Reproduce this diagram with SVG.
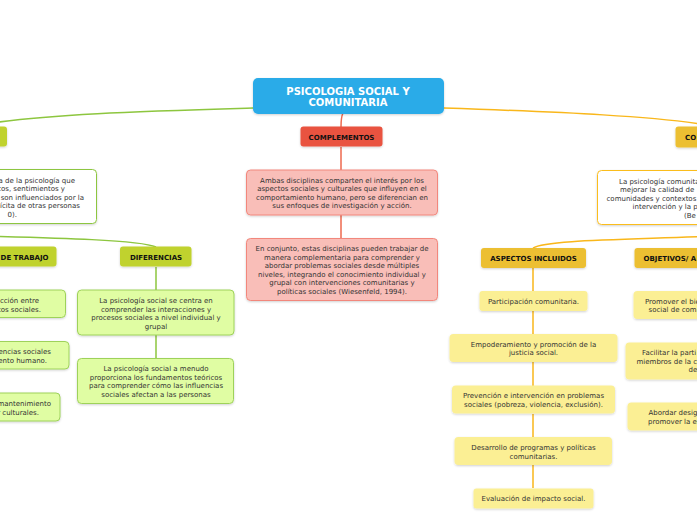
<svg xmlns="http://www.w3.org/2000/svg" width="697" height="520" viewBox="0 0 697 520">
<defs>
<filter id="sh" x="-10%" y="-20%" width="120%" height="150%">
<feDropShadow dx="0" dy="1" stdDeviation="1" flood-color="#000" flood-opacity="0.18"/>
</filter>
<style>
text{font-family:"DejaVu Sans","Verdana",sans-serif;}
.t{font-size:7px;fill:#333;text-anchor:middle;}
.te{font-size:7px;fill:#333;text-anchor:end;}
.ts{font-size:7px;fill:#333;text-anchor:start;}
.lb{font-size:7px;font-weight:bold;fill:#111;text-anchor:middle;}
.lbe{font-size:7px;font-weight:bold;fill:#111;text-anchor:end;}
.lbs{font-size:7px;font-weight:bold;fill:#111;text-anchor:start;}
.root{fill:#29abe8;}
.red{fill:#e9533f;}
.gn{fill:#c0d22f;}
.yn{fill:#ecbf31;}
.pink{fill:#f9beb8;stroke:#f2877c;stroke-width:1;}
.lg{fill:#e0fda3;stroke:#9ed25a;stroke-width:1;}
.ly{fill:#fbef94;}
.wg{fill:#fff;stroke:#8dc63f;stroke-width:1;}
.wy{fill:#fff;stroke:#fbbd1d;stroke-width:1;}
.cg{fill:none;stroke:#8dc63f;stroke-width:1.5;}
.cy{fill:none;stroke:#f9b71b;stroke-width:1.5;}
.cr{fill:none;stroke:#ee6a4f;stroke-width:1.5;}
</style>
</defs>
<rect width="697" height="520" fill="#fff"/>

<g id="connectors">
<path class="cg" d="M253,108 C150,111 40,114 -20,125"/>
<path class="cg" d="M-20,236 C60,238 140,240 156,247"/>
<path class="cg" d="M156,267 V290 M156,335 V358"/>
<path class="cy" d="M444,108 C560,112 660,116 720,127"/>
<path class="cy" d="M720,236 C620,240 545,240 533,248"/>
<path class="cy" d="M533,268 V291 M533,311 V334 M533,362 V386 M533,414 V437 M533,465 V488"/>
<path class="cr" d="M343,113 C341,117 341,122 341,127"/>
<path class="cr" d="M341,147 V170 M341,215 V239"/>
</g>

<g id="root">
<rect class="root" x="253" y="78" width="191" height="36" rx="5" filter="url(#sh)"/>
<text x="348" y="94.5" font-size="10" font-weight="bold" fill="#fff" text-anchor="middle">PSICOLOGIA SOCIAL Y</text>
<text x="348" y="106" font-size="10" font-weight="bold" fill="#fff" text-anchor="middle">COMUNITARIA</text>
</g>

<g id="complementos">
<rect class="red" x="300.5" y="126.5" width="82" height="20" rx="3" filter="url(#sh)"/>
<text class="lb" x="341.5" y="139.5">COMPLEMENTOS</text>
</g>
<g id="comp1">
<rect class="pink" x="246.5" y="170" width="191" height="45" rx="4" filter="url(#sh)"/>
<text class="t" x="342" y="182.5">Ambas disciplinas comparten el interés por los</text>
<text class="t" x="342" y="191">aspectos sociales y culturales que influyen en el</text>
<text class="t" x="342" y="199.5">comportamiento humano, pero se diferencian en</text>
<text class="t" x="342" y="208">sus enfoques de investigación y acción.</text>
</g>
<g id="comp2">
<rect class="pink" x="246.5" y="238.5" width="191" height="62" rx="4" filter="url(#sh)"/>
<text class="t" x="342" y="251">En conjunto, estas disciplinas pueden trabajar de</text>
<text class="t" x="342" y="259.5">manera complementaria para comprender y</text>
<text class="t" x="342" y="268">abordar problemas sociales desde múltiples</text>
<text class="t" x="342" y="276.5">niveles, integrando el conocimiento individual y</text>
<text class="t" x="342" y="285">grupal con intervenciones comunitarias y</text>
<text class="t" x="342" y="293.5">políticas sociales (Wiesenfeld, 1994).</text>
</g>

<g id="left-node">
<rect class="gn" x="-20" y="126.5" width="27" height="20" rx="3" filter="url(#sh)"/>
</g>
<g id="left-desc">
<rect class="wg" x="-20" y="169.5" width="116.5" height="54" rx="4" filter="url(#sh)"/>
<text class="te" x="75" y="182.5">a de la psicología que</text>
<text class="te" x="65" y="191">cos, sentimientos y</text>
<text class="te" x="84" y="199.5">son influenciados por la</text>
<text class="te" x="80" y="208">ícita de otras personas</text>
<text class="te" x="17" y="216.5">0).</text>
</g>

<g id="de-trabajo">
<rect class="gn" x="-20" y="246.5" width="76.5" height="20" rx="3" filter="url(#sh)"/>
<text class="lbe" x="48.5" y="259.5">DE TRABAJO</text>
</g>
<g id="trab1">
<rect class="lg" x="-20" y="290" width="85.5" height="27.5" rx="4" filter="url(#sh)"/>
<text class="te" x="39" y="303">cción entre</text>
<text class="te" x="41" y="311.5">tos sociales.</text>
</g>
<g id="trab2">
<rect class="lg" x="-20" y="341.5" width="89" height="27.5" rx="4" filter="url(#sh)"/>
<text class="te" x="51" y="354">encias sociales</text>
<text class="te" x="47" y="362.5">ento humano.</text>
</g>
<g id="trab3">
<rect class="lg" x="-20" y="393" width="80" height="28" rx="4" filter="url(#sh)"/>
<text class="te" x="51" y="406">mantenimiento</text>
<text class="te" x="39" y="414.5">r culturales.</text>
</g>

<g id="diferencias">
<rect class="gn" x="120" y="246.5" width="71.5" height="20" rx="3" filter="url(#sh)"/>
<text class="lb" x="156" y="259.5">DIFERENCIAS</text>
</g>
<g id="dif1">
<rect class="lg" x="77.5" y="290" width="156.5" height="45" rx="4" filter="url(#sh)"/>
<text class="t" x="156" y="303">La psicología social se centra en</text>
<text class="t" x="156" y="311.5">comprender las interacciones y</text>
<text class="t" x="156" y="320">procesos sociales a nivel individual y</text>
<text class="t" x="156" y="328.5">grupal</text>
</g>
<g id="dif2">
<rect class="lg" x="77.5" y="358.5" width="156" height="45" rx="4" filter="url(#sh)"/>
<text class="t" x="156" y="371">La psicología social a menudo</text>
<text class="t" x="156" y="379.5">proporciona los fundamentos teóricos</text>
<text class="t" x="156" y="388">para comprender cómo las influencias</text>
<text class="t" x="156" y="396.5">sociales afectan a las personas</text>
</g>

<g id="right-node">
<rect class="yn" x="675.5" y="126.5" width="50" height="21" rx="3" filter="url(#sh)"/>
<text class="lbs" x="685" y="140">CO</text>
</g>
<g id="right-desc">
<rect class="wy" x="597.5" y="170.5" width="130" height="54" rx="4" filter="url(#sh)"/>
<text class="ts" x="619" y="183.5">La psicología comunita</text>
<text class="ts" x="620" y="192">mejorar la calidad de</text>
<text class="ts" x="606.5" y="200.5">comunidades y contextos</text>
<text class="ts" x="632.5" y="209">intervención y la p</text>
<text class="ts" x="684" y="217.5">(Be</text>
</g>

<g id="aspectos">
<rect class="yn" x="481" y="248" width="105" height="20" rx="3" filter="url(#sh)"/>
<text class="lb" x="533.5" y="260.5">ASPECTOS INCLUIDOS</text>
</g>
<g id="asp1">
<rect class="ly" x="479.5" y="291" width="108" height="20" rx="3" filter="url(#sh)"/>
<text class="t" x="533.5" y="303.8">Participación comunitaria.</text>
</g>
<g id="asp2">
<rect class="ly" x="449.5" y="334" width="168" height="28" rx="4" filter="url(#sh)"/>
<text class="t" x="533.5" y="346.8">Empoderamiento y promoción de la</text>
<text class="t" x="533.5" y="355.3">justicia social.</text>
</g>
<g id="asp3">
<rect class="ly" x="452" y="385.5" width="163" height="28" rx="4" filter="url(#sh)"/>
<text class="t" x="533.5" y="398">Prevención e intervención en problemas</text>
<text class="t" x="533.5" y="406.5">sociales (pobreza, violencia, exclusión).</text>
</g>
<g id="asp4">
<rect class="ly" x="454.5" y="437" width="157.5" height="28" rx="4" filter="url(#sh)"/>
<text class="t" x="533.5" y="450">Desarrollo de programas y políticas</text>
<text class="t" x="533.5" y="458.5">comunitarias.</text>
</g>
<g id="asp5">
<rect class="ly" x="473.5" y="488.5" width="120" height="20" rx="3" filter="url(#sh)"/>
<text class="t" x="533.5" y="500.8">Evaluación de impacto social.</text>
</g>

<g id="objetivos">
<rect class="yn" x="634.5" y="248" width="90" height="20" rx="3" filter="url(#sh)"/>
<text class="lbs" x="643.5" y="260.5">OBJETIVOS/ A</text>
</g>
<g id="obj1">
<rect class="ly" x="633.5" y="291" width="90" height="28" rx="4" filter="url(#sh)"/>
<text class="ts" x="645" y="303.8">Promover el bie</text>
<text class="ts" x="648.5" y="312.3">social de com</text>
</g>
<g id="obj2">
<rect class="ly" x="625.5" y="342.5" width="100" height="37" rx="4" filter="url(#sh)"/>
<text class="ts" x="642" y="355">Facilitar la parti</text>
<text class="ts" x="636.5" y="363.5">miembros de la c</text>
<text class="ts" x="688.5" y="372">de</text>
</g>
<g id="obj3">
<rect class="ly" x="627.5" y="402.5" width="100" height="28" rx="4" filter="url(#sh)"/>
<text class="ts" x="648.5" y="415">Abordar desig</text>
<text class="ts" x="648" y="423.5">promover la e</text>
</g>
</svg>
